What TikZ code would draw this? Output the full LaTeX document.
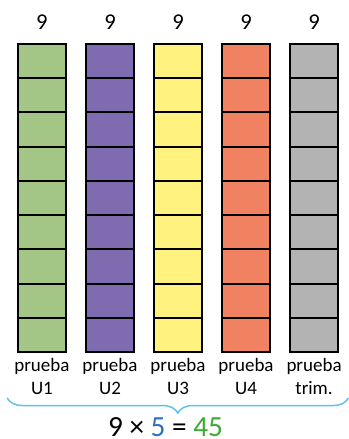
\documentclass[tikz,border=0pt]{standalone}
\usepackage{fontspec}
\setmainfont{Carlito}
\usetikzlibrary{decorations.pathreplacing}
\definecolor{colVerde}{HTML}{A3C585}
\definecolor{colMorado}{HTML}{7F6BB0}
\definecolor{colAmarillo}{HTML}{FFF27F}
\definecolor{colNaranja}{HTML}{F08262}
\definecolor{colGris}{HTML}{B3B3B3}
\definecolor{colCeleste}{HTML}{5BC2EE}
\definecolor{colAzul}{HTML}{2C72BC}
\definecolor{colVerdeOsc}{HTML}{3AAA35}
\begin{document}
\begin{tikzpicture}[
      columna/.style={draw, line width=1.3pt, fill=#1, inner sep=0pt,
                  minimum width=1.27cm, minimum height=8.15cm,
                  path picture={\foreach \k in {1,...,8}
                    \draw[line width=1.5pt]
                      ([yshift=\k*0.9056cm]path picture bounding box.south west) --
                      ([yshift=\k*0.9056cm]path picture bounding box.south east);}},
      num/.style={font=\fontsize{17}{20}\selectfont},
      lbl/.style={font=\fontsize{14.3}{17.3}\selectfont, align=center, inner sep=0pt},
      every node/.style={align=center}]
    \useasboundingbox (0,0) rectangle (9.234,-11.616);
    % columnas
    \node[columna=colVerde]    (u1)   at (1.11,-5.24) {};
    \node[columna=colMorado]   (u2)   at (2.91,-5.24) {};
    \node[columna=colAmarillo] (u3)   at (4.71,-5.24) {};
    \node[columna=colNaranja]  (u4)   at (6.51,-5.24) {};
    \node[columna=colGris]     (trim) at (8.31,-5.24) {};
    % cantidades
    \node[num] (n1) at (1.11,-0.58) {9};
    \node[num] (n2) at (2.91,-0.58) {9};
    \node[num] (n3) at (4.71,-0.58) {9};
    \node[num] (n4) at (6.51,-0.58) {9};
    \node[num] (n5) at (8.31,-0.58) {9};
    % pruebas
    \node[lbl] (p1) at (1.11,-9.97) {prueba\\U1};
    \node[lbl] (p2) at (2.91,-9.97) {prueba\\U2};
    \node[lbl] (p3) at (4.71,-9.97) {prueba\\U3};
    \node[lbl] (p4) at (6.51,-9.97) {prueba\\U4};
    \node[lbl] (p5) at (8.31,-9.97) {prueba\\trim.};
    % llave y total
    \coordinate (llaveIzq) at (0.19,-10.53);
    \coordinate (llaveDer) at (9.22,-10.53);
    \draw[colCeleste, line width=1.1pt,
          decorate, decoration={brace, mirror, amplitude=0.4cm}]
      (llaveIzq) -- (llaveDer);
    \node[font=\fontsize{22}{26}\selectfont, inner sep=0pt] (total) at (4.38,-11.3)
      {9 × \textcolor{colAzul}{5} = \textcolor{colVerdeOsc}{45}};
  \end{tikzpicture}
\end{document}
